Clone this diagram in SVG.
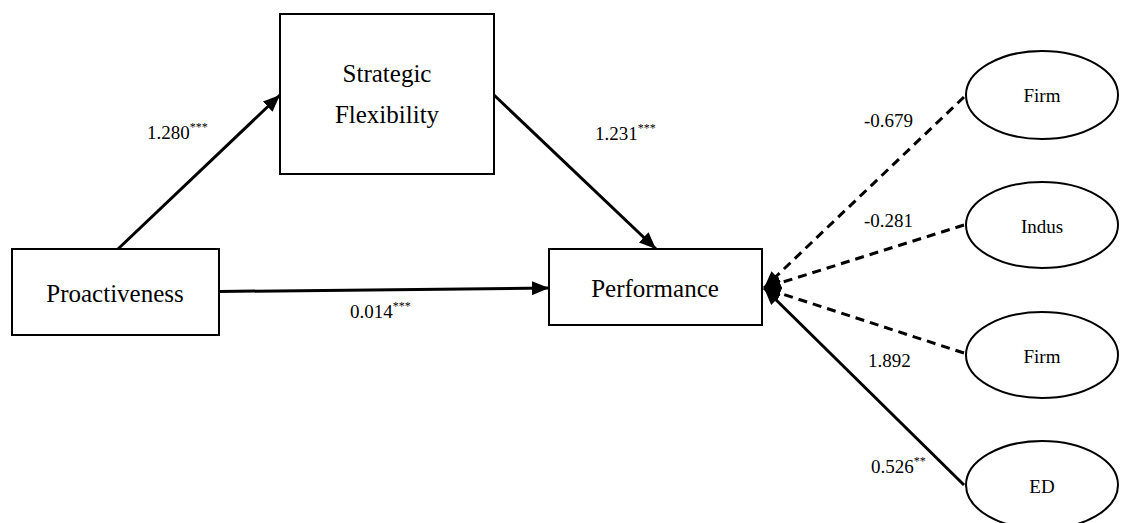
<svg xmlns="http://www.w3.org/2000/svg" width="1126" height="523" viewBox="0 0 1126 523" font-family="'Liberation Serif', 'DejaVu Serif', serif">
<style>
.box{fill:#fff;stroke:#000;stroke-width:2}
.ell{fill:#fff;stroke:#000;stroke-width:2}
.lbl{font-size:25px;fill:#000;text-anchor:middle}
.elbl{font-size:19px;fill:#000;text-anchor:middle}
.num{font-size:19px;fill:#000}
.sup{font-size:12px}
.edge{fill:none;stroke:#000;stroke-width:3;marker-end:url(#ah)}
.dash{stroke-dasharray:9 6}
</style>
<defs>
<marker id="ah" markerUnits="userSpaceOnUse" markerWidth="17" markerHeight="14" refX="17" refY="7" orient="auto">
<path d="M0,0 L17,7 L0,14 z" fill="#000" stroke="none"/>
</marker>
</defs>
<g id="connectors">
<line class="edge" x1="118" y1="249" x2="280" y2="95"/>
<line class="edge" x1="494" y1="95" x2="656" y2="249"/>
<line class="edge" x1="219" y1="291.5" x2="549" y2="288"/>
<line class="edge dash" x1="964" y1="97" x2="764" y2="288"/>
<line class="edge dash" x1="964" y1="225" x2="764" y2="288"/>
<line class="edge dash" x1="964" y1="353" x2="764" y2="288"/>
<line class="edge" x1="964" y1="485" x2="764" y2="288"/>
</g>
<g id="labels">
<text class="num" x="147" y="139">1.280<tspan class="sup" dy="-8">***</tspan></text>
<text class="num" x="595" y="140">1.231<tspan class="sup" dy="-8">***</tspan></text>
<text class="num" x="350" y="318">0.014<tspan class="sup" dy="-8">***</tspan></text>
<text class="num" x="864" y="127">-0.679</text>
<text class="num" x="864" y="227">-0.281</text>
<text class="num" x="868" y="367">1.892</text>
<text class="num" x="871" y="473">0.526<tspan class="sup" dy="-8">**</tspan></text>
</g>
<g id="node-strategic-flexibility">
<rect class="box" x="280" y="14" width="214" height="160"/>
<text class="lbl" x="387" y="82">Strategic</text>
<text class="lbl" x="387" y="123">Flexibility</text>
</g>
<g id="node-proactiveness">
<rect class="box" x="12" y="249" width="207" height="86"/>
<text class="lbl" x="115" y="302">Proactiveness</text>
</g>
<g id="node-performance">
<rect class="box" x="549" y="249" width="213" height="76"/>
<text class="lbl" x="655" y="297">Performance</text>
</g>
<g id="node-firm1">
<ellipse class="ell" cx="1042" cy="95" rx="76" ry="44"/>
<text class="elbl" x="1042" y="102">Firm</text>
</g>
<g id="node-indus">
<ellipse class="ell" cx="1042" cy="225" rx="76" ry="43"/>
<text class="elbl" x="1042" y="233">Indus</text>
</g>
<g id="node-firm2">
<ellipse class="ell" cx="1042" cy="355" rx="76" ry="43"/>
<text class="elbl" x="1042" y="363">Firm</text>
</g>
<g id="node-ed">
<ellipse class="ell" cx="1042" cy="485" rx="76" ry="44"/>
<text class="elbl" x="1042" y="493">ED</text>
</g>
</svg>
